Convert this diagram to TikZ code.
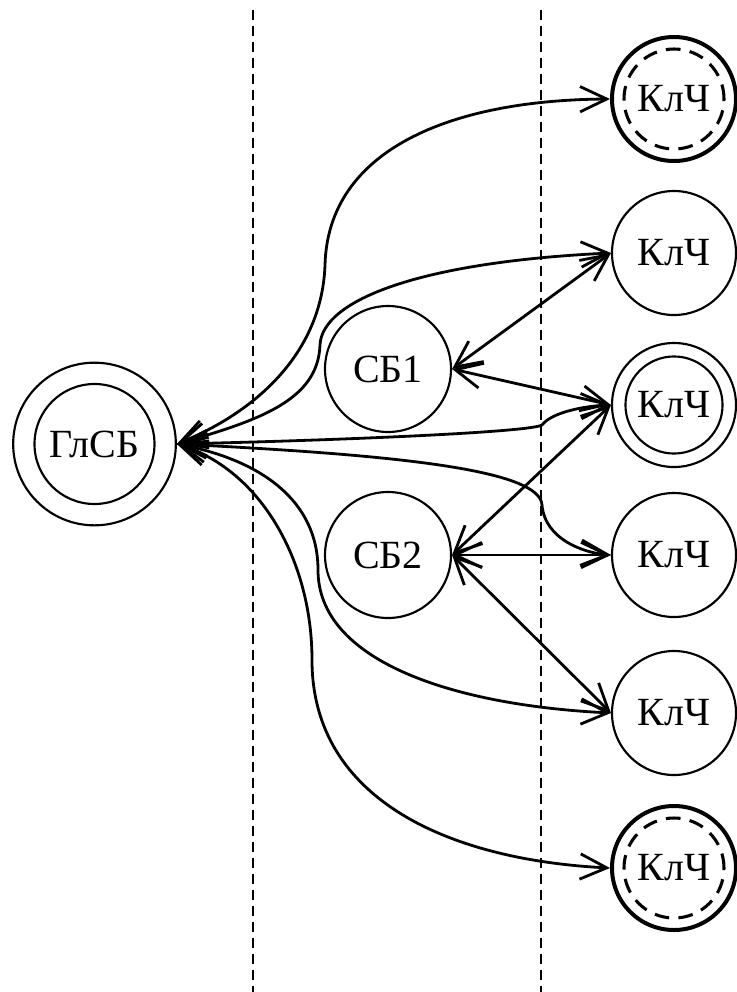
\documentclass[tikz,border=0pt]{standalone}
\usepackage{fontspec}
\setmainfont{Liberation Serif}
\usetikzlibrary{arrows.meta}
\begin{document}
\begin{tikzpicture}[x=0.75pt,y=-0.75pt,
  every node/.style={font=\fontsize{30}{33}\selectfont},
  unit/.style={draw, circle, line width=1.6pt, minimum size=93pt, inner sep=0pt},
  ring/.style={line width=1.6pt},
  dashring/.style={line width=2.3pt, dash pattern=on 11pt off 7pt},
  link/.style={line width=2.1pt,
    {Straight Barb[length=20pt,width=19pt]}-{Straight Barb[length=20pt,width=19pt]}},
  boundary/.style={line width=1.6pt, dash pattern=on 7.5pt off 4.5pt}]
\useasboundingbox (0,0) rectangle (736,992);

% zone boundaries
\coordinate (b1t) at (253,10);  \coordinate (b1b) at (253,992);
\coordinate (b2t) at (541,10);  \coordinate (b2b) at (541,992);
\draw[boundary] (b1t) -- (b1b);
\draw[boundary] (b2t) -- (b2b);

% main node
\node[unit, minimum size=122pt] (g) at (94.5,444) {ГлСБ};
\draw[ring] (g.center) circle[radius=45pt];

% intermediate nodes
\node[unit, minimum size=94.5pt] (s1) at (388,369) {СБ1};
\node[unit, minimum size=94.5pt] (s2) at (388,555) {СБ2};

% end nodes
\node[unit, line width=3pt] (k1) at (674,99) {КлЧ};
\draw[dashring] (k1.center) circle[radius=37.5pt];
\node[unit] (k2) at (674,253) {КлЧ};
\node[unit] (k3) at (674,405) {КлЧ};
\draw[ring] (k3.center) circle[radius=36.4pt];
\node[unit] (k4) at (674,555) {КлЧ};
\node[unit] (k5) at (674,713) {КлЧ};
\node[unit, line width=3pt] (k6) at (674,868) {КлЧ};
\draw[dashring] (k6.center) circle[radius=37.5pt];

% links from the main node
\draw[link] (g.east) .. controls (260,410) and (322,350) .. (325,265)
                      .. controls (328,150) and (450,100) .. (k1.west);
\draw[link] (g.east) .. controls (260,420) and (318,400) .. (320,345)
                      .. controls (322,300) and (420,262) .. (k2.west);
\draw[link] (g.east) .. controls (350,440) and (530,432) .. (542,425)
                      .. controls (552,412) and (585,406) .. (k3.west);
\draw[link] (g.east) .. controls (400,455) and (540,470) .. (542,505)
                      .. controls (545,540) and (585,553) .. (k4.west);
\draw[link] (g.east) .. controls (260,460) and (318,500) .. (318,570)
                      .. controls (318,660) and (450,705) .. (k5.west);
\draw[link] (g.east) .. controls (260,470) and (312,560) .. (312,660)
                      .. controls (312,800) and (450,860) .. (k6.west);

% links from the intermediate nodes
\draw[link] (s1.east) -- (k2.west);
\draw[link] (s1.east) -- (k3.west);
\draw[link] (s2.east) -- (k3.west);
\draw[link] (s2.east) -- (k4.west);
\draw[link] (s2.east) -- (k5.west);
\end{tikzpicture}
\end{document}
